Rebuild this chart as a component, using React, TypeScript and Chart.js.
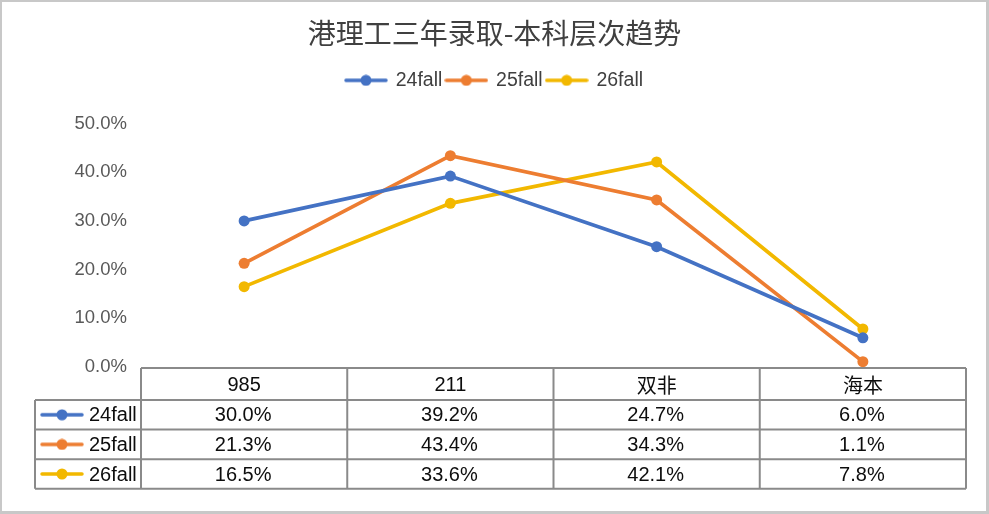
import React, { useEffect, useRef } from "react";
import { Chart, registerables } from "chart.js";

Chart.register(...registerables);

const TITLE = "港理工三年录取-本科层次趋势";
const categories = ["985", "211", "双非", "海本"];
const seriesNames = ["24fall", "25fall", "26fall"];
const fall24 = [30.0, 39.2, 24.7, 6.0];
const fall25 = [21.3, 43.4, 34.3, 1.1];
const fall26 = [16.5, 33.6, 42.1, 7.8];
const seriesValues = [fall24, fall25, fall26];
const yMin = 0;
const yMax = 50;
const yStep = 10;
const colors = ["#4472C4", "#ED7D31", "#F2B800"];

const FONT = "'Liberation Sans', 'Noto Sans CJK SC', Arial, sans-serif";
const CJK = "'Noto Sans CJK SC', 'Liberation Sans', sans-serif";

function makeIcon(color: string): HTMLCanvasElement {
  const c = document.createElement("canvas");
  c.width = 44;
  c.height = 12;
  const ctx = c.getContext("2d")!;
  ctx.strokeStyle = color;
  ctx.lineWidth = 3.5;
  ctx.lineCap = "round";
  ctx.beginPath();
  ctx.moveTo(2, 6);
  ctx.lineTo(42, 6);
  ctx.stroke();
  ctx.fillStyle = color;
  ctx.beginPath();
  ctx.arc(22, 6, 5.5, 0, Math.PI * 2);
  ctx.fill();
  return c;
}

const fmt = (v: number) => v.toFixed(1) + "%";

export default function App() {
  const ref = useRef<HTMLCanvasElement | null>(null);

  useEffect(() => {
    document.body.style.margin = "0";
    const icons = colors.map(makeIcon);

    const framePlugin = {
      id: "frame",
      beforeDraw(chart: any) {
        const { ctx, width, height } = chart;
        ctx.save();
        ctx.fillStyle = "#c8c8c8";
        ctx.fillRect(0, 0, width, height);
        ctx.fillStyle = "#ffffff";
        ctx.fillRect(2, 2, width - 5, height - 5);
        ctx.restore();
      },
    };

    const tablePlugin = {
      id: "dataTable",
      afterDraw(chart: any) {
        const { ctx, chartArea } = chart;
        const xs = chart.scales.x;
        const half = (xs.getPixelForValue(1) - xs.getPixelForValue(0)) / 2;
        const colEdges = categories.map((_, i) => xs.getPixelForValue(i) - half);
        colEdges.push(xs.getPixelForValue(categories.length - 1) + half);
        const left = 35;
        const right = colEdges[colEdges.length - 1];
        const top = chartArea.bottom + 1;
        const headH = 32;
        const rowH = 29.6;
        const rowYs = [top, top + headH];
        for (let r = 1; r <= seriesNames.length; r++) rowYs.push(top + headH + rowH * r);
        const bottom = rowYs[rowYs.length - 1];

        ctx.save();
        ctx.strokeStyle = "#8a8a8a";
        ctx.lineWidth = 2;
        ctx.beginPath();
        ctx.moveTo(colEdges[0], top);
        ctx.lineTo(right, top);
        for (let r = 1; r < rowYs.length; r++) {
          ctx.moveTo(left, rowYs[r]);
          ctx.lineTo(right, rowYs[r]);
        }
        ctx.moveTo(left, rowYs[1]);
        ctx.lineTo(left, bottom);
        colEdges.forEach((x) => {
          ctx.moveTo(x, top);
          ctx.lineTo(x, bottom);
        });
        ctx.stroke();

        ctx.fillStyle = "#0d0d0d";
        ctx.textAlign = "center";
        ctx.textBaseline = "middle";
        categories.forEach((c, i) => {
          const isCJK = /[^\x00-\x7f]/.test(c);
          ctx.font = `20px ${isCJK ? CJK : FONT}`;
          ctx.fillText(c, xs.getPixelForValue(i), (rowYs[0] + rowYs[1]) / 2 + 1);
        });
        ctx.font = `20px ${FONT}`;
        seriesNames.forEach((name, r) => {
          const cy = (rowYs[r + 1] + rowYs[r + 2]) / 2 + 1;
          ctx.drawImage(icons[r], left + 5, cy - 6 - 1, 44, 12);
          ctx.textAlign = "left";
          ctx.fillText(name, left + 54, cy);
          ctx.textAlign = "center";
          seriesValues[r].forEach((v, i) => {
            ctx.fillText(fmt(v), xs.getPixelForValue(i) - 1, cy);
          });
        });
        ctx.restore();
      },
    };

    const chart = new Chart(ref.current!, {
      type: "line",
      data: {
        labels: categories,
        datasets: seriesNames.map((name, i) => ({
          label: name,
          data: seriesValues[i],
          borderColor: colors[i],
          backgroundColor: colors[i],
          pointBackgroundColor: colors[i],
          pointBorderColor: colors[i],
          borderWidth: 3.7,
          pointRadius: 5.5,
          pointBorderWidth: 0,
          tension: 0,
          yAxisID: "y",
        })),
      },
      options: {
        animation: false,
        responsive: true,
        maintainAspectRatio: false,
        layout: { padding: { top: 0, left: 0, right: 0, bottom: 147 } },
        plugins: {
          title: {
            display: true,
            text: TITLE,
            color: "#404040",
            font: { family: CJK, size: 28, weight: "normal" },
            padding: { top: 17, bottom: 16 },
          },
          subtitle: {
            display: true,
            text: " ",
            weight: 500,
            font: { size: 10 },
            padding: { top: 0, bottom: 11.4 },
          } as any,
          legend: {
            display: true,
            position: "top",
            labels: {
              color: "#404040",
              font: { family: FONT, size: 19.5 },
              usePointStyle: true,
              pointStyleWidth: 40,
              padding: 4,
              generateLabels: () =>
                seriesNames.map((name, i) => ({
                  text: name,
                  fillStyle: colors[i],
                  strokeStyle: colors[i],
                  lineWidth: 0,
                  pointStyle: icons[i],
                  datasetIndex: i,
                  hidden: false,
                  fontColor: "#404040",
                })),
            },
          },
          tooltip: { enabled: false },
        },
        scales: {
          x: { display: false, offset: true },
          y: {
            min: yMin,
            max: yMax,
            grid: { display: false, drawTicks: false },
            border: { display: false },
            ticks: {
              stepSize: yStep,
              padding: 14,
              color: "#595959",
              font: { family: FONT, size: 18.5 },
              callback: (v: any) => fmt(Number(v)),
            },
            afterFit: (scale: any) => {
              scale.width = 141;
            },
          },
          yRight: {
            position: "right",
            min: yMin,
            max: yMax,
            grid: { display: false, drawTicks: false },
            border: { display: false },
            ticks: { display: false },
            afterFit: (scale: any) => {
              scale.width = 23;
            },
          },
        },
      },
      plugins: [framePlugin, tablePlugin],
    });
    return () => chart.destroy();
  }, []);

  return (
    <div style={{ width: 989, height: 514, position: "relative" }}>
      <canvas ref={ref} />
    </div>
  );
}
